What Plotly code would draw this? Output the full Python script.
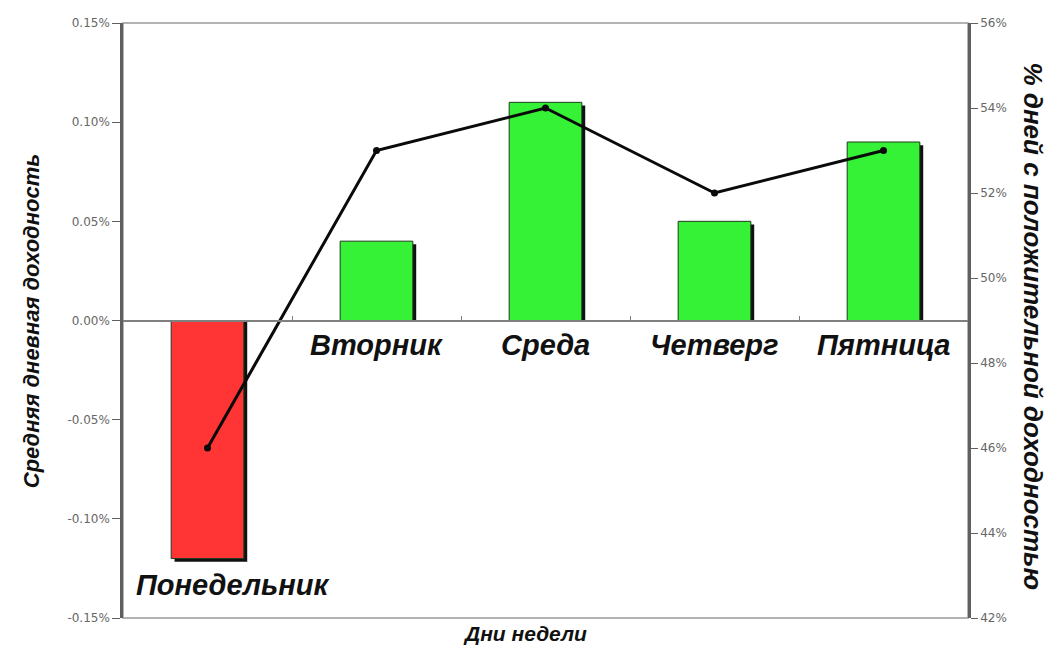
import plotly.graph_objects as go

# Weekday statistics
days = ["Понедельник", "Вторник", "Среда", "Четверг", "Пятница"]
avg_return = [-0.12, 0.04, 0.11, 0.05, 0.09]          # average daily return, %
positive_share = [46, 53, 54, 52, 53]                  # share of days with positive return, %
bar_colors = ["#FF3434", "#36F236", "#36F236", "#36F236", "#36F236"]

left_ticks = [-0.15, -0.10, -0.05, 0.00, 0.05, 0.10, 0.15]
right_ticks = [42, 44, 46, 48, 50, 52, 54, 56]

BAR_W = 0.43
SHADOW_DX = 0.02
SHADOW_DY = 0.0016

FAMILY = "Liberation Sans, Arial, sans-serif"
label_font = dict(family=FAMILY, size=29, color="#111111")
tick_font = dict(family="DejaVu Sans, sans-serif", size=12, color="#666666")

fig = go.Figure()

# drop shadow behind each bar
fig.add_trace(go.Bar(
    x=days, y=[v - SHADOW_DY for v in avg_return],
    width=BAR_W, offset=-BAR_W / 2 + SHADOW_DX,
    marker=dict(color="#111111", line=dict(width=0)),
    hoverinfo="skip", showlegend=False,
))
# average daily return bars
fig.add_trace(go.Bar(
    x=days, y=avg_return,
    width=BAR_W, offset=-BAR_W / 2,
    marker=dict(color=bar_colors, line=dict(color="#1f3a1f", width=1)),
    showlegend=False,
))
# share of positive days (secondary axis)
fig.add_trace(go.Scatter(
    x=days, y=positive_share, yaxis="y2",
    mode="lines+markers",
    line=dict(color="#0a0a0a", width=3),
    marker=dict(color="#0a0a0a", size=7),
    showlegend=False,
))

# weekday names: under the zero line, or under the bar when it is negative
annotations = []
for d, v in zip(days, avg_return):
    if v < 0:
        annotations.append(dict(
            x=d, y=v, xref="x", yref="y", text=f"<b><i>{d}</i></b>",
            showarrow=False, yanchor="top", yshift=-8, xshift=25, font=label_font,
        ))
    else:
        annotations.append(dict(
            x=d, y=0, xref="x", yref="y", text=f"<b><i>{d}</i></b>",
            showarrow=False, yanchor="top", yshift=-6, font=label_font,
        ))

annotations += [
    dict(text="<b><i>Средняя дневная доходность</i></b>", textangle=-90,
         xref="paper", yref="paper", x=-0.108, xanchor="center", y=0.5,
         showarrow=False, font=dict(family=FAMILY, size=22, color="#111111")),
    dict(text="<b><i>% дней с положительной доходностью</i></b>", textangle=90,
         xref="paper", yref="paper", x=1.097, xanchor="right", y=0.49,
         showarrow=False, font=dict(family=FAMILY, size=26, color="#111111")),
    dict(text="<b><i>Дни недели</i></b>",
         xref="paper", yref="paper", x=0.476, y=-0.003, yanchor="top",
         showarrow=False, font=dict(family=FAMILY, size=21, color="#111111")),
]

fig.update_layout(
    width=1053, height=646,
    margin=dict(l=123, r=85, t=23, b=28),
    paper_bgcolor="white", plot_bgcolor="white",
    barmode="overlay",
    annotations=annotations,
    shapes=[dict(type="rect", xref="paper", yref="paper", x0=0, x1=1, y0=0, y1=1,
                 line=dict(color="#9a9a9a", width=1.5), layer="below")],
    xaxis=dict(
        type="category", categoryorder="array", categoryarray=days,
        range=[-0.5, 4.5], anchor="free", position=0.5,
        showline=True, linecolor="#808080", linewidth=1.5,
        ticks="inside", tickson="boundaries", ticklen=4, tickcolor="#808080",
        showticklabels=False, showgrid=False, zeroline=False,
    ),
    yaxis=dict(
        range=[-0.15, 0.15], tickvals=left_ticks,
        ticktext=[f"{t:.2f}%" for t in left_ticks],
        showline=True, linecolor="#606060", linewidth=2.5,
        ticks="outside", ticklen=8, tickcolor="#606060", tickfont=tick_font,
        showgrid=False, zeroline=False,
    ),
    yaxis2=dict(
        range=[42, 56], tickvals=right_ticks,
        ticktext=[f"{t}%" for t in right_ticks],
        overlaying="y", side="right",
        showline=True, linecolor="#606060", linewidth=2.5,
        ticks="outside", ticklen=7, tickcolor="#606060", tickfont=tick_font,
        showgrid=False, zeroline=False,
    ),
)

fig.write_html("out.html")
